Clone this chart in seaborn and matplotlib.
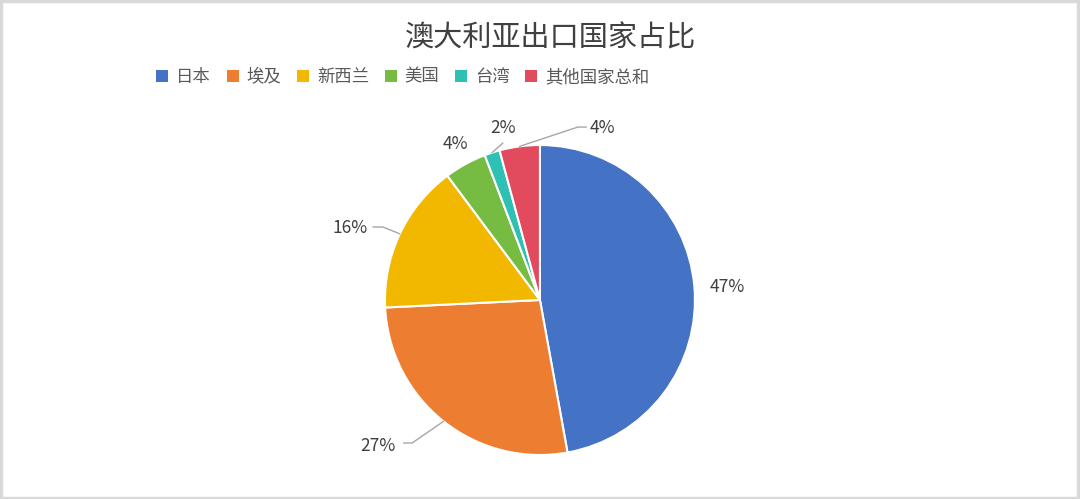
import numpy as np
import matplotlib

matplotlib.use("Agg")

import matplotlib.pyplot as plt
import seaborn as sns
from matplotlib.patches import Rectangle, Patch

# data
countries = ["日本", "埃及", "新西兰", "美国", "台湾", "其他国家总和"]
shares = [47.2, 27.1, 15.6, 4.4, 1.6, 4.2]
colors = sns.color_palette(["#4472C4", "#ED7D31", "#F2B800", "#76BC43", "#2EC0B2", "#E24A5E"])
title = "澳大利亚出口国家占比"

sns.set_theme(style="white")
plt.rcParams["font.family"] = ["Noto Sans CJK SC", "DejaVu Sans"]

fig = plt.figure(figsize=(10.8, 4.99), dpi=100)
fig.patch.set_facecolor("white")
fig.patches.append(Rectangle((0.001, 0.002), 0.997, 0.995, transform=fig.transFigure,
                             fill=False, edgecolor="#d9d9d9", lw=2.5))

# square axes centred on the pie
ax = fig.add_axes([0.3134, -0.005, 0.3731, 0.8076])
wedges, _ = ax.pie(shares, colors=colors, startangle=90, counterclock=False,
                   wedgeprops=dict(edgecolor="white", linewidth=1.5))
ax.set_xlim(-1.3, 1.3)
ax.set_ylim(-1.3, 1.3)
ax.set_aspect("equal")
ax.axis("off")

# label placement (layout only)
label_pos = [(1.206, 0.084), (-1.045, -0.942), (-1.226, 0.465),
             (-0.548, 1.006), (-0.239, 1.110), (0.40, 1.110)]
leaders = [None,
           [(-0.880, -0.923), (-0.825, -0.923)],
           [(-1.077, 0.471), (-1.013, 0.471)],
           None,
           [(-0.239, 1.013)],
           [(0.300, 1.116), (0.245, 1.116)]]

total = sum(shares)
for w, v, pos, lead in zip(wedges, shares, label_pos, leaders):
    ax.text(pos[0], pos[1], f"{v / total * 100:.0f}%", ha="center", va="center",
            fontsize=12.5, color="#404040")
    if lead is not None:
        mid = np.deg2rad((w.theta1 + w.theta2) / 2)
        edge = (np.cos(mid), np.sin(mid))
        pts = lead + [edge]
        ax.plot([p[0] for p in pts], [p[1] for p in pts], color="#a6a6a6", lw=1)

fig.text(0.51, 0.922, title, ha="center", va="center", fontsize=21, color="#404040")

handles = [Patch(facecolor=c, edgecolor="none") for c in colors]
fig.legend(handles, countries, loc="center", bbox_to_anchor=(0.373, 0.846), ncol=6,
           frameon=False, fontsize=12.5, labelcolor="#595959", handlelength=0.7,
           handleheight=0.7, handletextpad=0.45, columnspacing=0.9)

fig.savefig("out.png", dpi=100)
